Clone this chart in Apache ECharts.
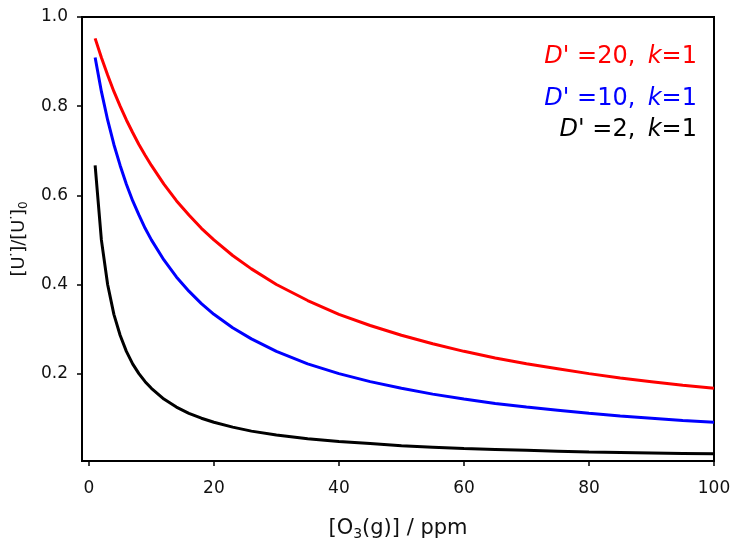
<!DOCTYPE html>
<html><head><meta charset="utf-8">
<script src="https://cdn.jsdelivr.net/npm/echarts@6/dist/echarts.min.js"></script>
<style>html,body{margin:0;padding:0;background:#fff}#c{width:734px;height:548px}</style>
</head><body><div id="c"></div>
<script>
var xValues = [1,2,3,4,5,6,7,8,9,10,12,14,16,18,20,23,26,30,35,40,45,50,55,60,65,70,75,80,85,90,95,100];
var seriesD20 = [0.952,0.909,0.870,0.833,0.800,0.769,0.741,0.714,0.690,0.667,0.625,0.588,0.556,0.526,0.500,0.465,0.435,0.400,0.364,0.333,0.308,0.286,0.267,0.250,0.235,0.222,0.211,0.200,0.190,0.182,0.174,0.167];
var seriesD10 = [0.909,0.833,0.769,0.714,0.667,0.625,0.588,0.556,0.526,0.500,0.455,0.417,0.385,0.357,0.333,0.303,0.278,0.250,0.222,0.200,0.182,0.167,0.154,0.143,0.133,0.125,0.118,0.111,0.105,0.100,0.095,0.091];
var seriesD2  = [0.667,0.500,0.400,0.333,0.286,0.250,0.222,0.200,0.182,0.167,0.143,0.125,0.111,0.100,0.091,0.080,0.071,0.0625,0.054,0.048,0.043,0.038,0.035,0.032,0.030,0.028,0.026,0.024,0.023,0.022,0.021,0.020];
var xTicks = [0,20,40,60,80,100];
var yTicks = [0.2,0.4,0.6,0.8,1.0];
var seriesNames = ["D'=20, k=1","D'=10, k=1","D'=2, k=1"];

function pairs(ys){ return xValues.map(function(x,i){return [x, ys[i]];}); }
var font = 'DejaVu Sans';
var chart = echarts.init(document.getElementById('c'));
function legendText(d, color, top){
  return {type:'text',right:37,top:top,style:{text:"{i|D'} =" + d + ", \u2009{i|k}=1",fill:color,font:'24px '+font,align:'right',
    rich:{i:{fontStyle:'italic',fontSize:24,fontFamily:font,fill:color}}}};
}
chart.setOption({
  animation:false,
  grid:{left:82,right:20,top:17,bottom:87,outerBoundsMode:'none',containLabel:false,show:true,borderColor:'#000',borderWidth:2,backgroundColor:'transparent'},
  xAxis:{type:'value',min:-1.1,max:100,
    name:'[O{sub|3}(g)] / ppm',nameLocation:'middle',nameGap:55,
    nameTextStyle:{color:'#111',fontFamily:font,fontSize:21,
      rich:{sub:{fontSize:14,verticalAlign:'bottom',padding:[11,0,0,0],fontFamily:font,color:'#111'}}},
    axisLine:{show:true,onZero:false,lineStyle:{color:'#000',width:2}},
    axisTick:{show:true,inside:false,length:5,customValues:xTicks,lineStyle:{color:'#000',width:1.5}},
    axisLabel:{customValues:xTicks,color:'#111',fontFamily:font,fontSize:17,margin:19},
    splitLine:{show:false}},
  yAxis:{type:'value',min:0.004,max:1.0,
    name:'[U{sup|\u2022}]/[U{sup|\u2022}]{sub|0}',nameLocation:'middle',nameGap:48,nameRotate:90,
    nameTextStyle:{color:'#111',fontFamily:font,fontSize:18,
      rich:{sub:{fontSize:12,verticalAlign:'bottom',padding:[10,0,0,0],fontFamily:font,color:'#111'},
            sup:{fontSize:6,verticalAlign:'top',padding:[0,0,10,0],fontFamily:font,color:'#111'}}},
    axisLine:{show:true,onZero:false,lineStyle:{color:'#000',width:2}},
    axisTick:{show:true,inside:false,length:5,customValues:yTicks,lineStyle:{color:'#000',width:1.5}},
    axisLabel:{customValues:yTicks,color:'#111',fontFamily:font,fontSize:17,margin:14,
      formatter:function(v){return v.toFixed(1);}},
    splitLine:{show:false}},
  series:[
    {name:seriesNames[0],type:'line',data:pairs(seriesD20),showSymbol:false,lineStyle:{color:'#ff0000',width:3},itemStyle:{color:'#ff0000'}},
    {name:seriesNames[1],type:'line',data:pairs(seriesD10),showSymbol:false,lineStyle:{color:'#0000ff',width:3},itemStyle:{color:'#0000ff'}},
    {name:seriesNames[2],type:'line',data:pairs(seriesD2),showSymbol:false,lineStyle:{color:'#000000',width:3},itemStyle:{color:'#000'}}
  ],
  graphic:[
    legendText('20','#ff0000',45),
    legendText('10','#0000ff',87),
    legendText('2','#000000',118)
  ]
});
</script></body></html>
